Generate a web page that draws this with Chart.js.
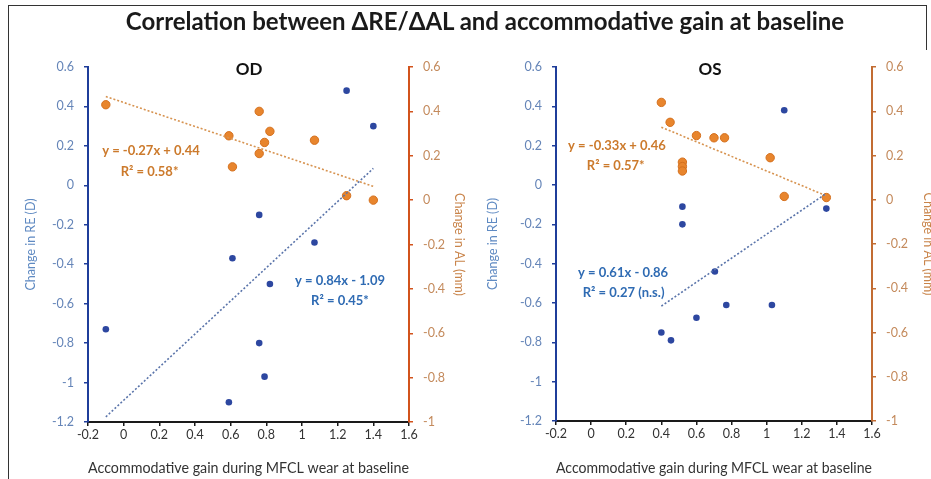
<!DOCTYPE html>
<html><head><meta charset="utf-8">
<script src="https://cdn.jsdelivr.net/npm/chart.js@4.4.0/dist/chart.umd.min.js"></script>
<style>
html,body{margin:0;padding:0;background:#fff;width:931px;height:479px;overflow:hidden;position:relative;font-family:Lato,"Open Sans",sans-serif;}
#title{position:absolute;left:0;width:970px;top:6px;text-align:center;font-weight:bold;font-size:24px;color:#1a1a1a;white-space:nowrap;}
.ptitle{position:absolute;top:58px;font-weight:bold;font-size:17px;color:#111;width:60px;text-align:center;}
.ln{position:absolute;background:#333;}
#wOD{position:absolute;left:0;top:0;width:470px;height:479px;}
#wOS{position:absolute;left:470px;top:0;width:475px;height:479px;}
</style></head>
<body>
<div class="ln" style="left:8px;top:5px;width:919px;height:1px;"></div>
<div class="ln" style="left:8px;top:5px;width:1px;height:474px;"></div>
<div class="ln" style="left:926px;top:5px;width:1px;height:45px;"></div>
<div id="wOD"><canvas id="cOD"></canvas></div>
<div id="wOS"><canvas id="cOS"></canvas></div>
<div id="title">Correlation between ΔRE/ΔAL and accommodative gain at baseline</div>
<div class="ptitle" style="left:219px;">OD</div>
<div class="ptitle" style="left:680px;">OS</div>
<script>
// ---- data ----
const xTicks = [-0.2, 0, 0.2, 0.4, 0.6, 0.8, 1, 1.2, 1.4, 1.6];
const reTicks = [-1.2, -1, -0.8, -0.6, -0.4, -0.2, 0, 0.2, 0.4, 0.6];
const alTicks = [-1, -0.8, -0.6, -0.4, -0.2, 0, 0.2, 0.4, 0.6];

const odGain = [-0.1, 0.59, 0.61, 0.76, 0.76, 0.79, 0.82, 1.07, 1.25, 1.40];
const odRE   = [-0.73, -1.10, -0.37, -0.15, -0.80, -0.97, -0.50, -0.29, 0.48, 0.30];
const odAL   = [0.43, 0.29, 0.15, 0.40, 0.21, 0.26, 0.31, 0.27, 0.02, 0.00];

const osGainRE = [0.40, 0.455, 0.52, 0.52, 0.60, 0.705, 0.77, 1.03, 1.10, 1.34];
const osRE     = [-0.75, -0.79, -0.11, -0.20, -0.675, -0.44, -0.61, -0.61, 0.38, -0.12];
const osGainAL = [0.40, 0.45, 0.52, 0.52, 0.52, 0.60, 0.70, 0.76, 1.02, 1.10, 1.34];
const osAL     = [0.44, 0.35, 0.17, 0.15, 0.13, 0.29, 0.28, 0.28, 0.19, 0.015, 0.01];

const odTrendRE = [0.84, -1.09];
const odTrendAL = [-0.27, 0.44];
const osTrendRE = [0.61, -0.86];
const osTrendAL = [-0.33, 0.46];

const odLabels = ['y = -0.27x + 0.44', 'R² = 0.58*', 'y = 0.84x - 1.09', 'R² = 0.45*'];
const osLabels = ['y = -0.33x + 0.46', 'R² = 0.57*', 'y = 0.61x - 0.86', 'R² = 0.27 (n.s.)'];

// ---- helpers ----
const FONT = 'Lato, "Open Sans", sans-serif';
const BLUE_PT = '#2d47a0', ORANGE_PT = '#e8852d';
const pts = (xs, ys) => xs.map((x, i) => ({x: x, y: ys[i]}));
function trend(xs, coef) {
  const a = Math.min(...xs), b = Math.max(...xs);
  return [{x: a, y: coef[0] * a + coef[1]}, {x: b, y: coef[0] * b + coef[1]}];
}
const fmt = v => String(+(+v).toFixed(1));
const setTicks = arr => s => { s.ticks = arr.map(v => ({value: v})); };

const labelPlugin = {
  id: 'eqLabels',
  afterDatasetsDraw(chart, args, opts) {
    const ctx = chart.ctx, sx = chart.scales.x, sy = chart.scales.y;
    ctx.save();
    ctx.textAlign = 'center';
    ctx.textBaseline = 'middle';
    opts.items.forEach(it => {
      ctx.fillStyle = it.color;
      ctx.font = 'bold 13px ' + FONT;
      ctx.fillText(it.text, sx.getPixelForValue(it.x), sy.getPixelForValue(it.y));
    });
    ctx.restore();
  }
};

function makeChart(id, cfg) {
  return new Chart(document.getElementById(id), {
    type: 'scatter',
    data: {
      datasets: [
        {data: cfg.trendRE, yAxisID: 'y', showLine: true, pointRadius: 0, borderColor: '#5a74aa', borderWidth: 1.6, borderDash: [2, 2], order: 0},
        {data: cfg.trendAL, yAxisID: 'y2', showLine: true, pointRadius: 0, borderColor: '#d79350', borderWidth: 1.6, borderDash: [2, 2], order: 0},
        {data: cfg.re, yAxisID: 'y', pointRadius: 3.3, backgroundColor: BLUE_PT, borderColor: BLUE_PT, borderWidth: 0, order: 1},
        {data: cfg.al, yAxisID: 'y2', pointRadius: 4.2, backgroundColor: ORANGE_PT, borderColor: '#d4701e', borderWidth: 1, order: 2}
      ]
    },
    options: {
      responsive: true, maintainAspectRatio: false, animation: false,
      events: [],
      layout: {padding: {top: 67, left: 0, right: 0, bottom: 0}},
      plugins: {legend: {display: false}, tooltip: {enabled: false}, title: {display: false},
        eqLabels: {items: cfg.items}},
      scales: {
        x: {
          type: 'linear', min: -0.2, max: 1.6,
          afterBuildTicks: setTicks(xTicks),
          afterFit: s => { s.height = cfg.xH; },
          border: {display: true, color: '#1a1a1a', width: 2},
          grid: {drawOnChartArea: false, drawTicks: true, tickLength: 4, color: '#1a1a1a', lineWidth: 1.5},
          ticks: {callback: fmt, color: '#333', font: {family: FONT, size: 12.5}, padding: 1, maxRotation: 0},
          title: {display: true, text: 'Accommodative gain during MFCL wear at baseline', color: '#333', font: {family: FONT, size: 14.5}, padding: {top: 0, bottom: 2}}
        },
        y: {
          type: 'linear', position: 'left', min: -1.2, max: 0.6,
          afterBuildTicks: setTicks(reTicks),
          afterFit: s => { s.width = cfg.yW; },
          border: {display: true, color: '#1f3d9a', width: 2},
          grid: {drawOnChartArea: false, drawTicks: true, tickLength: 4, color: '#1f3d9a', lineWidth: 1.5},
          ticks: {callback: fmt, color: '#6585b8', font: {family: FONT, size: 12.5}, padding: 10},
          title: {display: true, text: 'Change in RE (D)', color: '#5f8ac2', font: {family: FONT, size: 12.5}, padding: {top: cfg.yTitlePad, bottom: 0}}
        },
        y2: {
          type: 'linear', position: 'right', min: -1, max: 0.6,
          afterBuildTicks: setTicks(alTicks),
          afterFit: s => { s.width = cfg.y2W; },
          border: {display: true, color: cfg.rightColor, width: 2},
          grid: {drawOnChartArea: false, drawTicks: true, tickLength: 4, color: cfg.rightColor, lineWidth: 1.5},
          ticks: {callback: fmt, color: '#c48a5c', font: {family: FONT, size: 12.5}, padding: 10},
          title: {display: true, text: 'Change in AL (mm)', color: '#c9844a', font: {family: FONT, size: 12.5}, padding: {top: cfg.y2TitlePad, bottom: 0}}
        }
      }
    },
    plugins: [labelPlugin]
  });
}

makeChart('cOD', {
  re: pts(odGain, odRE), al: pts(odGain, odAL),
  trendRE: trend(odGain, odTrendRE), trendAL: trend(odGain, odTrendAL),
  xH: 57, yW: 88, y2W: 61, yTitlePad: 23, y2TitlePad: 3, rightColor: '#d2531c',
  items: [
    {text: odLabels[0], x: 0.153, y: 0.174, color: '#cc7a2c'},
    {text: odLabels[1], x: 0.145, y: 0.068, color: '#cc7a2c'},
    {text: odLabels[2], x: 1.213, y: -0.485, color: '#2f6bb3'},
    {text: odLabels[3], x: 1.213, y: -0.587, color: '#2f6bb3'}
  ]
});

makeChart('cOS', {
  re: pts(osGainRE, osRE), al: pts(osGainAL, osAL),
  trendRE: trend(osGainRE, osTrendRE), trendAL: trend(osGainAL, osTrendAL),
  xH: 58, yW: 86, y2W: 73, yTitlePad: 15, y2TitlePad: 9, rightColor: '#c26c32',
  items: [
    {text: osLabels[0], x: 0.147, y: 0.197, color: '#cc7a2c'},
    {text: osLabels[1], x: 0.14, y: 0.10, color: '#cc7a2c'},
    {text: osLabels[2], x: 0.182, y: -0.445, color: '#2f6bb3'},
    {text: osLabels[3], x: 0.185, y: -0.547, color: '#2f6bb3'}
  ]
});
</script>
</body></html>
